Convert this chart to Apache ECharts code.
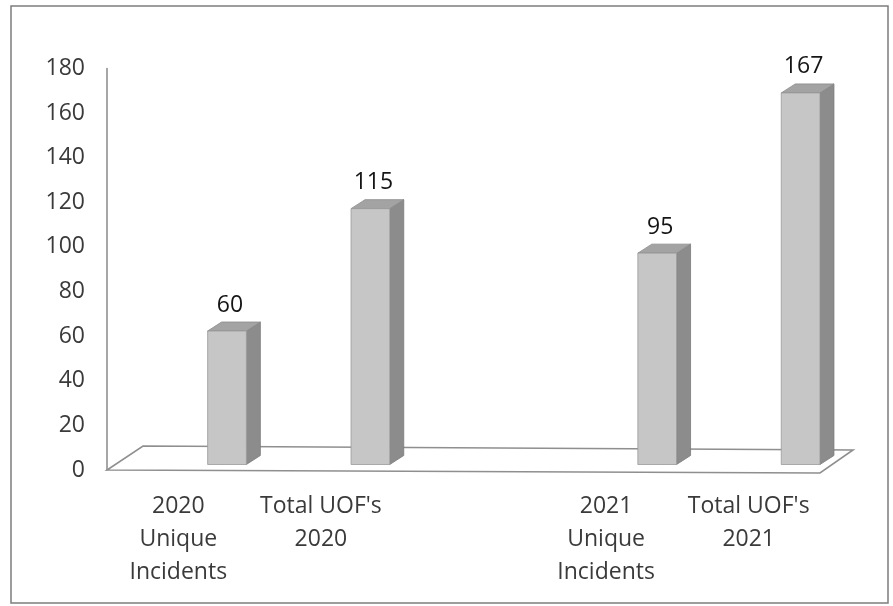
<!DOCTYPE html>
<html>
<head>
<meta charset="utf-8">
<script src="https://cdn.jsdelivr.net/npm/echarts@6/dist/echarts.min.js"></script>
<style>
html,body{margin:0;padding:0;background:#fff;}
#chart{width:893px;height:606px;}
</style>
</head>
<body>
<div id="chart"></div>
<script>
// ---- data ----
const categories = ['2020\nUnique\nIncidents', "Total UOF's\n2020", '', '2021\nUnique\nIncidents', "Total UOF's\n2021"];
const values = [60, 115, null, 95, 167];
const yMin = 0, yMax = 180, yStep = 20;

const FONT = '"Open Sans", "Noto Sans", sans-serif';
const barData = [];
values.forEach((v, i) => { if (v !== null) barData.push([i, v]); });

function renderFloor(params, api) {
  const cs = params.coordSys;
  const x0 = cs.x, x1 = cs.x + cs.width, yb = cs.y + cs.height;
  return {
    type: 'polygon',
    shape: { points: [[x0, yb], [x1, yb + 3], [x1 + 33, yb - 20], [x0 + 36, yb - 24]] },
    style: { fill: 'transparent', stroke: '#8f8f8f', lineWidth: 1.6 }
  };
}

function renderBar(params, api) {
  const i = api.value(0), v = api.value(1);
  const top = api.coord([i, v]);
  const base = api.coord([i, 0]);
  const w = api.size([1, 0])[0] * 0.27;
  const l = top[0] - w / 2, r = top[0] + w / 2;
  const d = 14, dy = 9;
  const t = top[1], b = base[1];
  return {
    type: 'group',
    children: [
      { type: 'polygon', shape: { points: [[r, t], [r + d, t - dy], [r + d, b - dy], [r, b]] },
        style: { fill: '#8c8c8c', stroke: '#7a7a7a', lineWidth: 0.8 } },
      { type: 'polygon', shape: { points: [[l, t], [l + d, t - dy], [r + d, t - dy], [r, t]] },
        style: { fill: '#a3a3a3', stroke: '#8a8a8a', lineWidth: 0.8 } },
      { type: 'rect', shape: { x: l, y: t, width: w, height: b - t },
        style: { fill: '#c6c6c6', stroke: '#9a9a9a', lineWidth: 0.8 } },
      { type: 'text', x: top[0] + 3, y: t - 26,
        style: { text: String(v), align: 'center', verticalAlign: 'middle',
                 font: '23px ' + FONT, fill: '#151515' } }
    ]
  };
}

const chart = echarts.init(document.getElementById('chart'), null, { renderer: 'canvas' });
chart.setOption({
  backgroundColor: '#ffffff',
  animation: false,
  graphic: [{
    type: 'rect', shape: { x: 11, y: 6, width: 877, height: 597 },
    style: { fill: 'transparent', stroke: '#7d7d7d', lineWidth: 1.5 }, z: -1
  }],
  grid: [
    { left: 107, right: 73, top: 68.5, bottom: 136, containLabel: false },
    { left: 155.3, right: 20.7, top: 64, bottom: 141.5, containLabel: false }
  ],
  xAxis: [
    { type: 'category', gridIndex: 0, data: categories,
      axisLine: { show: false }, axisTick: { show: false }, splitLine: { show: false },
      axisLabel: { interval: 0, margin: 20, color: '#3a3a3a', fontSize: 23, fontFamily: FONT,
                   lineHeight: 33, align: 'center' } },
    { type: 'category', gridIndex: 1, data: categories, show: false }
  ],
  yAxis: [
    { type: 'value', gridIndex: 0, min: yMin, max: yMax, interval: yStep,
      axisLine: { show: true, lineStyle: { color: '#8a8a8a', width: 1.5 } },
      axisTick: { show: false }, splitLine: { show: false },
      axisLabel: { margin: 22, color: '#3a3a3a', fontSize: 23, fontFamily: FONT } },
    { type: 'value', gridIndex: 1, min: yMin, max: yMax, interval: yStep, show: false }
  ],
  series: [
    { type: 'custom', xAxisIndex: 0, yAxisIndex: 0, data: [[0, 0]], renderItem: renderFloor, z: 1, silent: true },
    { type: 'custom', xAxisIndex: 1, yAxisIndex: 1, data: barData, renderItem: renderBar, z: 2 }
  ]
});
</script>
</body>
</html>
